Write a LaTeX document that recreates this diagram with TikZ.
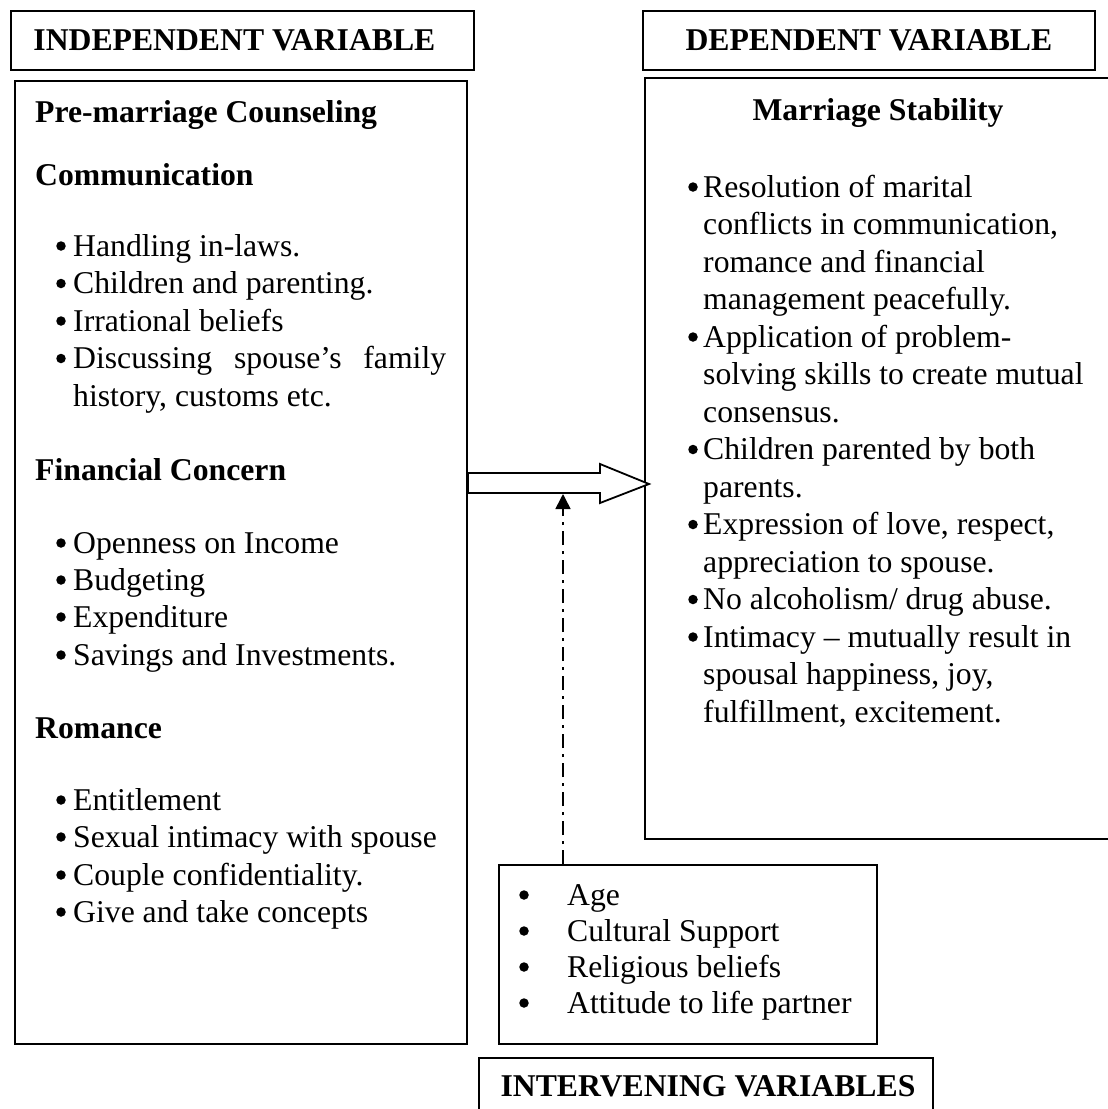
\documentclass[tikz,border=0pt]{standalone}
\usepackage{fontspec}
\setmainfont{Liberation Serif}
\usetikzlibrary{arrows.meta}
\newcommand\bodyfont{\fontsize{31.7}{37.5}\selectfont}
\begin{document}
\begin{tikzpicture}[x=1pt,y=-1pt,
  frame/.style={draw=black, line width=1.8pt, inner sep=0pt, anchor=north west},
  hdbox/.style={frame, font=\bodyfont\bfseries},
  txt/.style={anchor=base west, inner sep=0pt, font=\bodyfont},
  hd/.style={anchor=base west, inner sep=0pt, font=\bodyfont\bfseries},
  dot/.style={circle, fill=black, inner sep=0pt, minimum size=9.5pt},
  dashdot/.style={line width=1.6pt, dash pattern=on 14pt off 6pt on 3pt off 6pt}]
\useasboundingbox (0,0) rectangle (1108,1109);
\fill[white] (0,0) rectangle (1108,1109);

% header boxes
\node[hdbox, minimum width=463pt, minimum height=59pt] (iv) at (10,10) {\hspace*{-16pt}INDEPENDENT VARIABLE};
\node[hdbox, minimum width=452pt, minimum height=59pt] (dv) at (642,10) {DEPENDENT VARIABLE};

% main boxes
\node[frame, minimum width=452pt, minimum height=963pt] (left) at (14,80) {};
\node[frame, minimum width=476pt, minimum height=761pt] (right) at (644,77) {};
\node[frame, minimum width=378pt, minimum height=179pt] (agebox) at (498,864) {};
\node[frame, minimum width=454pt, minimum height=80pt] (ivbox) at (478,1057) {};
\node[hd, anchor=base] (ivtext) at (708,1096) {INTERVENING VARIABLES};

% left box text
\node[hd] (l1) at (35,122) {Pre-marriage Counseling};
\node[hd] (l2) at (35,185) {Communication};
\node[dot] (b1) at (61,246) {};   \node[txt] (t1) at (73,256) {Handling in-laws.};
\node[dot] (b2) at (61,283.5) {}; \node[txt] (t2) at (73,293.5) {Children and parenting.};
\node[dot] (b3) at (61,321) {};   \node[txt] (t3) at (73,331) {Irrational beliefs};
\node[dot] (b4) at (61,358.5) {}; \node[txt] (t4) at (73,368.5) {\makebox[373pt][s]{Discussing spouse’s family}};
\node[txt] (t5) at (73,406) {history, customs etc.};
\node[hd] (l3) at (35,480) {Financial Concern};
\node[dot] (b6) at (61,543) {}; \node[txt] (t6) at (73,553) {Openness on Income};
\node[dot] (b7) at (61,580) {}; \node[txt] (t7) at (73,590) {Budgeting};
\node[dot] (b8) at (61,617) {}; \node[txt] (t8) at (73,627) {Expenditure};
\node[dot] (b9) at (61,655) {}; \node[txt] (t9) at (73,665) {Savings and Investments.};
\node[hd] (l4) at (35,738) {Romance};
\node[dot] (b10) at (61,800) {}; \node[txt] (t10) at (73,810) {Entitlement};
\node[dot] (b11) at (61,837) {}; \node[txt] (t11) at (73,847) {Sexual intimacy with spouse};
\node[dot] (b12) at (61,875) {}; \node[txt] (t12) at (73,885) {Couple confidentiality.};
\node[dot] (b13) at (61,912) {}; \node[txt] (t13) at (73,922) {Give and take concepts};

% right box text
\node[hd, anchor=base] (r0) at (878,120) {Marriage Stability};
\node[dot] (rb1) at (693,187) {};   \node[txt] (r1) at (703,197) {Resolution of marital};
\node[txt] (r2) at (703,234.5) {conflicts in communication,};
\node[txt] (r3) at (703,272) {romance and financial};
\node[txt] (r4) at (703,309.5) {management peacefully.};
\node[dot] (rb2) at (693,337) {};   \node[txt] (r5) at (703,347) {Application of problem-};
\node[txt] (r6) at (703,384.5) {solving skills to create mutual};
\node[txt] (r7) at (703,422) {consensus.};
\node[dot] (rb3) at (693,449.5) {}; \node[txt] (r8) at (703,459.5) {Children parented by both};
\node[txt] (r9) at (703,497) {parents.};
\node[dot] (rb4) at (693,524.5) {}; \node[txt] (r10) at (703,534.5) {Expression of love, respect,};
\node[txt] (r11) at (703,572) {appreciation to spouse.};
\node[dot] (rb5) at (693,599.5) {}; \node[txt] (r12) at (703,609.5) {No alcoholism/ drug abuse.};
\node[dot] (rb6) at (693,637) {};   \node[txt] (r13) at (703,647) {Intimacy – mutually result in};
\node[txt] (r14) at (703,684.5) {spousal happiness, joy,};
\node[txt] (r15) at (703,722) {fulfillment, excitement.};

% intervening items
\node[dot] (ib1) at (524,895) {};  \node[txt] (i1) at (567,905) {Age};
\node[dot] (ib2) at (524,931) {};  \node[txt] (i2) at (567,941) {Cultural Support};
\node[dot] (ib3) at (524,967) {};  \node[txt] (i3) at (567,977) {Religious beliefs};
\node[dot] (ib4) at (524,1003) {}; \node[txt] (i4) at (567,1013) {Attitude to life partner};

% block arrow
\draw[line width=1.8pt, fill=white, line join=miter]
  (468,473) -- (600,473) -- (600,464) -- (649,484) -- (600,503) -- (600,493) -- (468,493) -- cycle;
\coordinate (dtgt) at (563,494);

% intervening connector
\draw[dashdot, -{Triangle[length=15pt,width=15pt]}] (dtgt |- agebox.north) -- (dtgt);
\end{tikzpicture}
\end{document}
